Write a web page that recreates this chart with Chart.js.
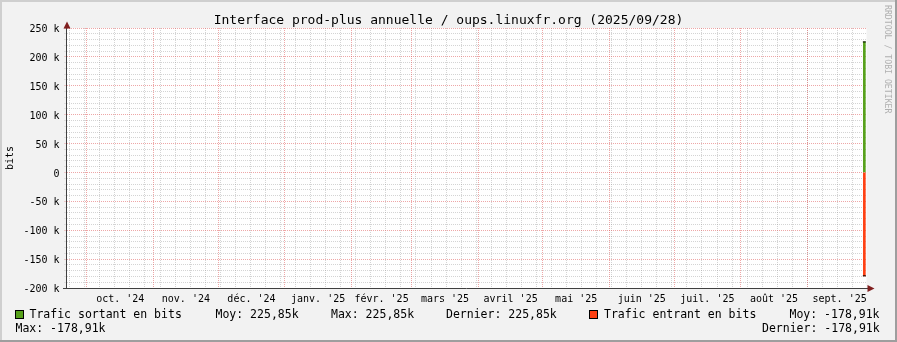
<!DOCTYPE html>
<html>
<head>
<meta charset="utf-8">
<title>Interface prod-plus annuelle</title>
<script src="https://cdn.jsdelivr.net/npm/chart.js@4.4.1/dist/chart.umd.min.js"></script>
<style>
  body { margin: 0; background: #f2f2f2; }
  #wrap { position: relative; width: 897px; height: 342px; background: #f2f2f2; overflow: hidden;
          font-family: "DejaVu Sans Mono", monospace; color: #000; }
  #wrap canvas { position: absolute; left: 0; top: 0; }
  .t { position: absolute; white-space: pre; font-size: 11.5px; line-height: 14px; }
  .box { position: absolute; width: 9px; height: 9px; box-sizing: border-box; border: 1px solid #000; }
  .shade { position: absolute; }
  #titre { position: absolute; left: 0; top: 12px; width: 897px; text-align: center;
           font-size: 13px; line-height: 15px; white-space: pre; }
  #marque { position: absolute; left: 883px; top: 5px; writing-mode: vertical-rl;
            font-size: 8.2px; line-height: 9px; color: #b0b0b0; white-space: pre; }
</style>
</head>
<body>
<div id="wrap">
  <canvas id="graphe" width="897" height="342"></canvas>
  <div id="titre">Interface prod-plus annuelle / oups.linuxfr.org (2025/09/28)</div>
  <div id="marque">RRDTOOL / TOBI OETIKER</div>

  <div class="box" style="left:15px; top:310px; background:#57a11b"></div>
  <span class="t" style="left:29.5px; top:306.5px">Trafic sortant en bits</span>
  <span class="t" style="left:215.5px; top:306.5px">Moy: 225,85k</span>
  <span class="t" style="left:331px; top:306.5px">Max: 225,85k</span>
  <span class="t" style="left:446px; top:306.5px">Dernier: 225,85k</span>
  <div class="box" style="left:589px; top:310px; background:#ff4013"></div>
  <span class="t" style="left:604px; top:306.5px">Trafic entrant en bits</span>
  <span class="t" style="left:789.5px; top:306.5px">Moy: -178,91k</span>
  <span class="t" style="left:15.5px; top:320.5px">Max: -178,91k</span>
  <span class="t" style="left:762px; top:320.5px">Dernier: -178,91k</span>

  <div class="shade" style="left:0; top:0; width:897px; height:2px; background:#cfcfcf"></div>
  <div class="shade" style="left:0; top:0; width:2px; height:342px; background:#cfcfcf"></div>
  <div class="shade" style="left:0; top:340px; width:897px; height:2px; background:#9e9e9e"></div>
  <div class="shade" style="left:895px; top:0; width:2px; height:342px; background:#9e9e9e"></div>
</div>

<script>
// donnees
const monthLabels = ["oct. '24", "nov. '24", "déc. '24", "janv. '25", "févr. '25", "mars '25",
                     "avril '25", "mai '25", "juin '25", "juil. '25", "août '25", "sept. '25"];
const sampleTimes = ['2025-09-27T12:00:00Z'];
const sortant = [225850];
const entrant = [-178910];

const yMin = -200000, yMax = 250000;
const yMajorStep = 50000, yMinorStep = 10000;

const vert = '#57a11b';
const rouge = '#ff4013';
const gridGris = 'rgba(143,143,143,0.38)';
const gridRouge = 'rgba(222,79,79,0.5)';
const mono = 'DejaVu Sans Mono';

// axe du temps en jours
const DAY = 86400000;
const xStart = Date.UTC(2024, 8, 21, 12);
const xEnd = Date.UTC(2025, 8, 28, 12);
const dayOf = t => (t - xStart) / DAY;

const monthStarts = monthLabels.map((_, i) => dayOf(Date.UTC(2024, 9 + i, 1)));
const monthEnd = dayOf(Date.UTC(2025, 9, 1));
const monthMiddles = monthStarts.map((d, i) => (d + (i + 1 < monthStarts.length ? monthStarts[i + 1] : monthEnd)) / 2);

const mondays = [];
for (let t = Date.UTC(2024, 8, 23); t <= xEnd; t += 7 * DAY) mondays.push(dayOf(t));

const yGrid = [];
for (let v = yMin; v <= yMax; v += yMinorStep) yGrid.push(v);

const pts = arr => sampleTimes.map((t, i) => ({x: dayOf(Date.parse(t)), y: arr[i]}));

// fond blanc + fleches des axes
const cadre = {
  id: 'cadre',
  beforeDraw(chart) {
    const {ctx, chartArea: a} = chart;
    ctx.save();
    ctx.fillStyle = '#ffffff';
    ctx.fillRect(a.left, a.top, a.right - a.left, a.bottom - a.top);
    ctx.restore();
  },
  afterDraw(chart) {
    const {ctx, chartArea: a} = chart;
    ctx.save();
    ctx.strokeStyle = '#404040';
    ctx.lineWidth = 1;
    ctx.beginPath();
    ctx.moveTo(a.left - 3.5, a.bottom + 0.5);
    ctx.lineTo(a.left, a.bottom + 0.5);
    ctx.moveTo(a.right, a.bottom + 0.5);
    ctx.lineTo(a.right + 2, a.bottom + 0.5);
    ctx.stroke();
    ctx.fillStyle = '#801f1f';
    ctx.beginPath();
    ctx.moveTo(a.left - 3, a.top + 0.5);
    ctx.lineTo(a.left + 0.5, a.top - 6.5);
    ctx.lineTo(a.left + 4, a.top + 0.5);
    ctx.closePath();
    ctx.fill();
    ctx.beginPath();
    ctx.moveTo(a.right + 1, a.bottom - 3);
    ctx.lineTo(a.right + 8, a.bottom + 0.5);
    ctx.lineTo(a.right + 1, a.bottom + 4);
    ctx.closePath();
    ctx.fill();
    ctx.restore();
  }
};

new Chart(document.getElementById('graphe'), {
  type: 'bar',
  data: {
    datasets: [
      {
        type: 'line', label: 'bord', data: pts(sortant).concat(pts(entrant)),
        showLine: false, pointStyle: 'line', pointRadius: 1.5, pointBorderWidth: 1,
        pointBorderColor: '#000', pointBackgroundColor: '#000'
      },
      { label: 'Trafic sortant en bits', data: pts(sortant), backgroundColor: vert,
        barThickness: 2, grouped: false, borderWidth: 0 },
      { label: 'Trafic entrant en bits', data: pts(entrant), backgroundColor: rouge,
        barThickness: 2, grouped: false, borderWidth: 0 }
    ]
  },
  options: {
    responsive: false,
    animation: false,
    devicePixelRatio: 1,
    events: [],
    layout: { padding: { top: 28, right: 30.5, bottom: 0, left: 0 } },
    plugins: { legend: { display: false }, tooltip: { enabled: false }, title: { display: false } },
    scales: {
      x: {
        type: 'linear', position: 'bottom', min: 0, max: dayOf(xEnd), offset: false,
        afterBuildTicks: s => { s.ticks = monthMiddles.map(v => ({value: v})); },
        afterFit: s => { s.height = 54; s.paddingLeft = 0; s.paddingRight = 0; },
        grid: { display: false, drawTicks: false, offset: false },
        border: { display: true, color: '#404040', width: 1 },
        ticks: { autoSkip: false, maxRotation: 0, minRotation: 0, padding: 5, color: '#000',
                 font: { family: mono, size: 10 }, callback: (v, i) => monthLabels[i] }
      },
      xMois: {
        type: 'linear', position: 'bottom', min: 0, max: dayOf(xEnd), offset: false,
        afterBuildTicks: s => { s.ticks = monthStarts.map(v => ({value: v})); },
        afterFit: s => { s.height = 0; s.paddingLeft = 0; s.paddingRight = 0; },
        grid: { color: gridRouge, drawTicks: false, offset: false, z: -2 },
        border: { display: false, dash: [1, 1] },
        ticks: { display: false }
      },
      xSemaine: {
        type: 'linear', position: 'bottom', min: 0, max: dayOf(xEnd), offset: false,
        afterBuildTicks: s => { s.ticks = mondays.map(v => ({value: v})); },
        afterFit: s => { s.height = 0; s.paddingLeft = 0; s.paddingRight = 0; },
        grid: { color: gridGris, drawTicks: false, offset: false, z: -4 },
        border: { display: false, dash: [1, 1] },
        ticks: { display: false }
      },
      y: {
        type: 'linear', position: 'left', min: yMin, max: yMax,
        afterBuildTicks: s => { s.ticks = yGrid.map(v => ({value: v})); },
        afterFit: s => { s.width = 66.5; },
        grid: {
          color: c => (c.tick && c.tick.value % yMajorStep === 0) ? gridRouge : gridGris,
          tickColor: c => (c.tick && c.tick.value % yMajorStep === 0) ? gridRouge : gridGris,
          tickLength: 2, tickBorderDash: [1, 1], z: -3
        },
        border: { display: true, color: '#404040', width: 1, dash: [1, 1] },
        ticks: {
          autoSkip: false, padding: 5, labelOffset: 1.5, color: '#000', font: { family: mono, size: 10 },
          callback: v => v % yMajorStep !== 0 ? '' : (v === 0 ? '0' : (v / 1000) + ' k')
        },
        title: { display: true, text: 'bits', color: '#000', font: { family: mono, size: 10 },
                 padding: { top: 4, bottom: 0 } }
      }
    }
  },
  plugins: [cadre]
});
</script>
</body>
</html>
